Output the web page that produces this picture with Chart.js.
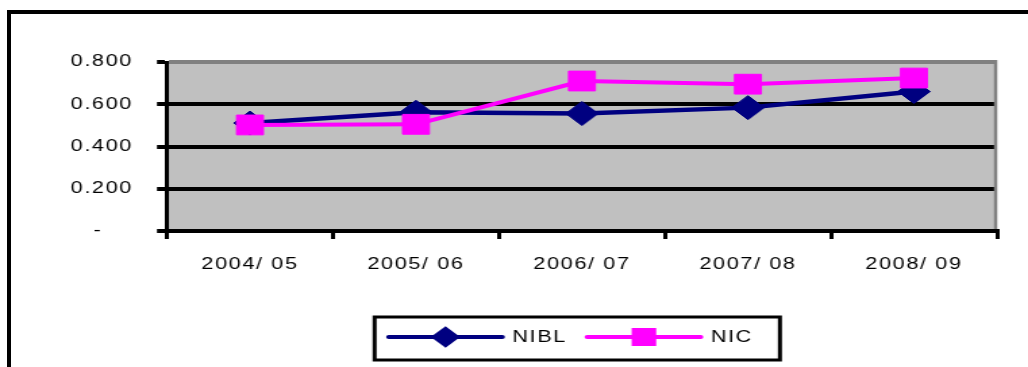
<!DOCTYPE html>
<html>
<head>
<meta charset="utf-8">
<script src="https://cdn.jsdelivr.net/npm/chart.js@4/dist/chart.umd.min.js"></script>
<style>
  html, body { margin: 0; padding: 0; background: #fff; overflow: hidden; width: 1028px; height: 367px; }
  #frame { position: absolute; left: 7px; top: 10px; width: 2000px; height: 2000px;
           border-left: 4px solid #000; border-top: 4px solid #000; box-sizing: border-box; }
  #wrap { position: absolute; left: 0; top: 0; width: 761px; height: 367px;
          transform: scaleX(1.3509); transform-origin: 0 0; }
</style>
</head>
<body>
<div id="frame"></div>
<div id="wrap"><canvas id="c"></canvas></div>
<script>
// Fiscal years and the two banks' ratios
const years = ['2004/ 05', '2005/ 06', '2006/ 07', '2007/ 08', '2008/ 09'];
const nibl = [0.511, 0.562, 0.556, 0.584, 0.660];
const nic  = [0.502, 0.505, 0.710, 0.695, 0.724];
const yTicks = [0, 0.2, 0.4, 0.6, 0.8];

const FONT = '"Liberation Sans", Arial, sans-serif';
const SPACING = '1.2px';

// Grey plot area, wide letter spacing and a grey right edge
const plotStyle = {
  id: 'plotStyle',
  beforeDraw(chart) {
    const { ctx, chartArea: a } = chart;
    ctx.letterSpacing = SPACING;
    ctx.save();
    ctx.fillStyle = '#c0c0c0';
    ctx.fillRect(a.left, a.top, a.right - a.left, a.bottom - a.top);
    ctx.restore();
  },
  beforeDatasetsDraw(chart) {
    const { ctx, chartArea: a } = chart;
    ctx.save();
    ctx.strokeStyle = '#808080';
    ctx.lineWidth = 2.5;
    ctx.beginPath();
    ctx.moveTo(a.right - 1, a.top - 2);
    ctx.lineTo(a.right - 1, a.bottom - 2);
    ctx.stroke();
    ctx.restore();
  }
};

// Boxed legend showing each series' line with its marker
const lineLegend = {
  id: 'lineLegend',
  afterDraw(chart) {
    const { ctx, chartArea: a } = chart;
    const sets = chart.data.datasets;
    ctx.save();
    ctx.letterSpacing = SPACING;
    ctx.font = '16px ' + FONT;
    const lineLen = 84, gap = 7.5, itemGap = 15, padL = 10.5, padR = 20;
    const widths = sets.map(ds => ctx.measureText(ds.label).width);
    const total = padL + padR + widths.reduce((s, w) => s + lineLen + gap + w, 0) + itemGap * (sets.length - 1);
    const left = (a.left + a.right) / 2 - total / 2 - 3.5;
    const top = a.bottom + 86, h = 43;
    const cy = top + h / 2 - 1.5;
    ctx.fillStyle = '#fff';
    ctx.fillRect(left, top, total, h);
    ctx.strokeStyle = '#000';
    ctx.lineWidth = 3;
    ctx.strokeRect(left, top, total, h);
    let x = left + padL;
    sets.forEach((ds, i) => {
      ctx.strokeStyle = ds.borderColor;
      ctx.lineWidth = 4;
      ctx.lineCap = 'round';
      ctx.beginPath();
      ctx.moveTo(x, cy);
      ctx.lineTo(x + lineLen, cy);
      ctx.stroke();
      ctx.fillStyle = ds.pointBackgroundColor;
      ctx.strokeStyle = ds.pointBorderColor;
      Chart.helpers.drawPoint(ctx, {
        pointStyle: ds.pointStyle,
        radius: ds.legendRadius,
        rotation: 0,
        borderWidth: 1
      }, x + lineLen / 2, cy);
      ctx.fillStyle = '#000';
      ctx.textAlign = 'left';
      ctx.textBaseline = 'middle';
      ctx.fillText(ds.label, x + lineLen + gap, cy + 1);
      x += lineLen + gap + widths[i] + itemGap;
    });
    ctx.restore();
  }
};

new Chart(document.getElementById('c'), {
  type: 'line',
  data: {
    labels: years,
    datasets: [
      {
        label: 'NIBL', data: nibl,
        borderColor: '#000080', backgroundColor: '#000080', borderWidth: 4.5,
        pointStyle: 'rectRot', pointRadius: 12, pointBorderWidth: 1,
        pointBackgroundColor: '#000080', pointBorderColor: '#000080',
        legendRadius: 8, tension: 0, order: 2
      },
      {
        label: 'NIC', data: nic,
        borderColor: '#ff00ff', backgroundColor: '#ff00ff', borderWidth: 4,
        pointStyle: 'rect', pointRadius: 14, pointBorderWidth: 1,
        pointBackgroundColor: '#ff00ff', pointBorderColor: '#ff00ff',
        legendRadius: 10, tension: 0, order: 1
      }
    ]
  },
  options: {
    responsive: true,
    maintainAspectRatio: false,
    animation: false,
    events: [],
    layout: { padding: { top: 62, right: 23, left: 0, bottom: 0 } },
    plugins: { legend: { display: false }, tooltip: { enabled: false } },
    scales: {
      x: {
        offset: true,
        afterFit(scale) { scale.height = 136; },
        grid: { offset: true, drawOnChartArea: false, drawTicks: true, tickLength: 8, color: '#000', lineWidth: 3 },
        border: { color: '#000', width: 4 },
        ticks: { color: '#000', padding: 16, font: { family: FONT, size: 16 }, maxRotation: 0 }
      },
      y: {
        min: yTicks[0],
        max: yTicks[yTicks.length - 1],
        afterFit(scale) { scale.width = 123.6; },
        afterBuildTicks(scale) { scale.ticks = yTicks.map(v => ({ value: v })); },
        grid: {
          color: c => (c.tick && c.tick.value >= yTicks[yTicks.length - 1] - 1e-9) ? '#808080' : '#000',
          tickColor: '#000',
          lineWidth: 4,
          tickLength: 7.4
        },
        border: { color: '#000', width: 3 },
        ticks: {
          color: '#000',
          padding: 17.8,
          font: { family: FONT, size: 16 },
          callback: v => v === 0 ? '-    ' : Number(v).toFixed(3)
        }
      }
    }
  },
  plugins: [plotStyle, lineLegend]
});
</script>
</body>
</html>
